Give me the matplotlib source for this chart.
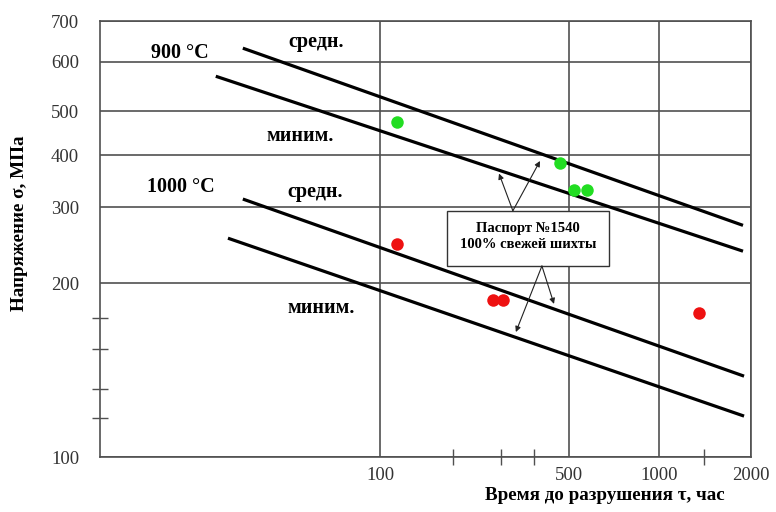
import numpy as np
import matplotlib
matplotlib.use('Agg')
import matplotlib.pyplot as plt
from matplotlib.patches import Rectangle

plt.rcParams['font.family'] = ['Liberation Serif', 'DejaVu Serif']

# данные (время до разрушения, час / напряжение, МПа)
c900_avg_t = [31.1, 1883]
c900_avg_s = [632, 272]
c900_min_t = [24.7, 1883]
c900_min_s = [569, 237]
c1000_avg_t = [31.1, 1898]
c1000_avg_s = [313.5, 138]
c1000_min_t = [27.4, 1898]
c1000_min_s = [254, 117.7]

green_t = [116, 463, 520, 575]
green_s = [473, 382, 329, 329]
red_t = [116, 262, 285, 1352]
red_s = [246, 187, 187, 177.5]

x_ticks = [100, 500, 1000, 2000]
y_ticks = [100, 200, 300, 400, 500, 600, 700]
x_minor = [186, 280, 371, 1400]
y_minor = [117, 131, 154, 174]

# шкалы исходного рисунка (лог. шкала, нарисованная неравномерно)
x_knot_v = np.log10([1, 10, 100, 500, 1000, 2000])
x_knot_p = [-260.8, 9.6, 280, 469, 559, 651]
y_knot_v = np.log10([100, 200, 300, 400, 500, 600, 700])
y_knot_p = [0, 174, 250, 302, 346, 395, 436]


def fx(v):
    return np.interp(np.log10(np.maximum(v, 1e-12)), x_knot_v, x_knot_p)


def ix(p):
    return 10 ** np.interp(p, x_knot_p, x_knot_v)


def fy(v):
    return np.interp(np.log10(np.maximum(v, 1e-12)), y_knot_v, y_knot_p)


def iy(p):
    return 10 ** np.interp(p, y_knot_p, y_knot_v)


fig = plt.figure(figsize=(7.76, 5.12), dpi=100)
ax = fig.add_axes([100 / 776, 1 - 457 / 512, 651 / 776, 436 / 512])
ax.set_xscale('function', functions=(fx, ix))
ax.set_yscale('function', functions=(fy, iy))
ax.set_xlim(ix(0), 2000)
ax.set_ylim(100, 700)

gc = '#505050'
ax.set_xticks(x_ticks)
ax.set_xticklabels([str(v) for v in x_ticks])
ax.set_yticks(y_ticks)
ax.set_yticklabels([str(v) for v in y_ticks])
ax.set_xticks(x_minor, minor=True)
ax.set_yticks(y_minor, minor=True)
ax.tick_params(which='major', length=0, labelsize=13.5, labelcolor='#333333')
ax.tick_params(axis='y', which='major', pad=15)
ax.tick_params(axis='x', which='major', pad=7)
ax.tick_params(which='minor', direction='inout', length=11, width=1.0, color=gc)
ax.grid(True, which='major', color=gc, lw=1.2)
for sp in ax.spines.values():
    sp.set_color(gc)
    sp.set_linewidth(1.2)

# линии
for t, s in [(c900_avg_t, c900_avg_s), (c900_min_t, c900_min_s),
             (c1000_avg_t, c1000_avg_s), (c1000_min_t, c1000_min_s)]:
    ax.plot(t, s, color='black', lw=2.3, zorder=3, solid_capstyle='butt')

# точки
ax.plot(green_t, green_s, 'o', color='#22dd22', ms=9, mec='none', zorder=4)
ax.plot(red_t, red_s, 'o', color='#ee1111', ms=9, mec='none', zorder=4)

# подписи
fs = 14.5
ax.text(0.123, 0.927, '900 °C', transform=ax.transAxes, ha='center', va='center', fontsize=fs, fontweight='bold')
ax.text(0.332, 0.952, 'средн.', transform=ax.transAxes, ha='center', va='center', fontsize=fs, fontweight='bold')
ax.text(0.307, 0.736, 'миним.', transform=ax.transAxes, ha='center', va='center', fontsize=fs, fontweight='bold')
ax.text(0.124, 0.619, '1000 °C', transform=ax.transAxes, ha='center', va='center', fontsize=fs, fontweight='bold')
ax.text(0.330, 0.608, 'средн.', transform=ax.transAxes, ha='center', va='center', fontsize=fs, fontweight='bold')
ax.text(0.339, 0.342, 'миним.', transform=ax.transAxes, ha='center', va='center', fontsize=fs, fontweight='bold')

# выноска
ax.add_patch(Rectangle((0.533, 0.438), 0.249, 0.126, transform=ax.transAxes,
                       facecolor='white', edgecolor='#333333', lw=1.0, zorder=5))
ax.text(0.657, 0.506, 'Паспорт №1540\n100% свежей шихты', transform=ax.transAxes,
        ha='center', va='center', fontsize=10.5, fontweight='bold', linespacing=1.35, zorder=6)
arw = dict(arrowstyle='-|>', color='#222222', lw=0.8, mutation_scale=8, shrinkA=0, shrinkB=0)
ax.annotate('', xy=(275.5, 361), xytext=(310, 294), arrowprops=arw, zorder=6)
ax.annotate('', xy=(390.6, 387), xytext=(310, 294), arrowprops=arw, zorder=6)
ax.annotate('', xy=(318, 164.5), xytext=(397, 219), arrowprops=arw, zorder=6)
ax.annotate('', xy=(440, 184), xytext=(397, 219), arrowprops=arw, zorder=6)

fig.text(20 / 776, 1 - 223 / 512, 'Напряжение σ, МПа', rotation=90, ha='center', va='center',
         fontsize=13.75, fontweight='bold')
fig.text(605 / 776, 1 - 495 / 512, 'Время до разрушения τ, час', ha='center', va='center',
         fontsize=13.7, fontweight='bold')

fig.savefig('out.png', dpi=100)
